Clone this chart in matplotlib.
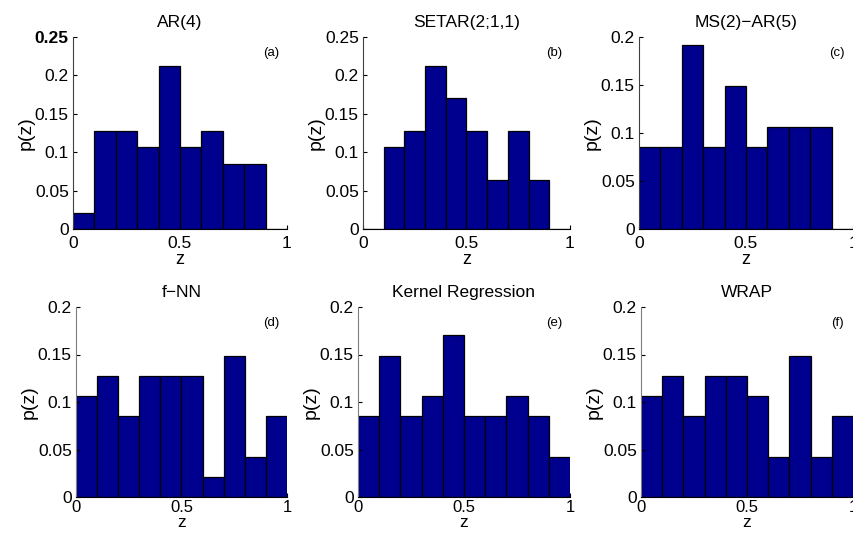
import numpy as np
import matplotlib
matplotlib.use("Agg")
import matplotlib.pyplot as plt

plt.rcParams['font.family'] = ['Liberation Sans', 'DejaVu Sans']

# bin edges and histogram heights (counts out of 47 samples)
edges = np.linspace(0, 1, 11)
n_total = 47
titles = ["AR(4)", "SETAR(2;1,1)", "MS(2)\u2212AR(5)",
          "f\u2212NN", "Kernel Regression", "WRAP"]
tags = ["(a)", "(b)", "(c)", "(d)", "(e)", "(f)"]
ar4 = [1, 6, 6, 5, 10, 5, 6, 4, 4, 0]
setar = [0, 5, 6, 10, 8, 6, 3, 6, 3, 0]
msar = [4, 4, 9, 4, 7, 4, 5, 5, 5, 0]
fnn = [5, 6, 4, 6, 6, 6, 1, 7, 2, 4]
kernel = [4, 7, 4, 5, 8, 4, 4, 5, 4, 2]
wrap = [5, 6, 4, 6, 6, 5, 2, 7, 2, 4]
ymaxs = [0.25, 0.25, 0.2, 0.2, 0.2, 0.2]

W, H = 854, 535
# axes boxes in pixels: left, right, top, bottom
boxes = [(73, 287, 37, 229), (363, 570, 37, 229), (639, 853, 37, 229),
         (76, 287, 307, 497), (358, 570, 307, 497), (641, 853, 307, 497)]

fig = plt.figure(figsize=(W / 100, H / 100), dpi=100)
series = [ar4, setar, msar, fnn, kernel, wrap]

for i, counts in enumerate(series):
    l, r, t, b = boxes[i]
    ax = fig.add_axes([l / W, 1 - b / H, (r - l) / W, (b - t) / H])
    p = np.array(counts) / n_total
    ax.bar(edges[:-1], p, width=0.1, align='edge', color='#00008F',
           edgecolor='black', linewidth=0.9)
    ax.set_xlim(0, 1)
    ax.set_ylim(0, ymaxs[i])
    ax.set_xticks([0, 0.5, 1])
    ax.set_xticklabels(['0', '0.5', '1'])
    if ymaxs[i] == 0.25:
        ax.set_yticks([0, 0.05, 0.1, 0.15, 0.2, 0.25])
        ax.set_yticklabels(['0', '0.05', '0.1', '0.15', '0.2', '0.25'])
    else:
        ax.set_yticks([0, 0.05, 0.1, 0.15, 0.2])
        ax.set_yticklabels(['0', '0.05', '0.1', '0.15', '0.2'])
    ax.spines['top'].set_visible(False)
    ax.spines['right'].set_visible(False)
    ax.spines['left'].set_color('#404040' if i < 3 else '#7f7f7f')
    ax.spines['bottom'].set_color('black')
    ax.tick_params(direction='in', length=3, labelsize=12.5)
    ax.tick_params(axis='y', pad=3)
    ax.set_title(titles[i], fontsize=12.5, pad=7)
    ax.set_ylabel('p(z)', fontsize=14, labelpad=0)
    if i < 3:
        ax.tick_params(axis='x', pad=5)
        ax.set_xlabel('z', fontsize=13, labelpad=0)
    else:
        ax.tick_params(axis='x', pad=2.5, labelsize=12)
        ax.set_xlabel('z', fontsize=12.5, labelpad=0)
    ax.text(0.925, 0.915, tags[i], transform=ax.transAxes, fontsize=9.5,
            ha='center', va='center')
    if i == 0:
        ax.get_yticklabels()[-1].set_fontweight('bold')

fig.savefig('out.png', dpi=100)
